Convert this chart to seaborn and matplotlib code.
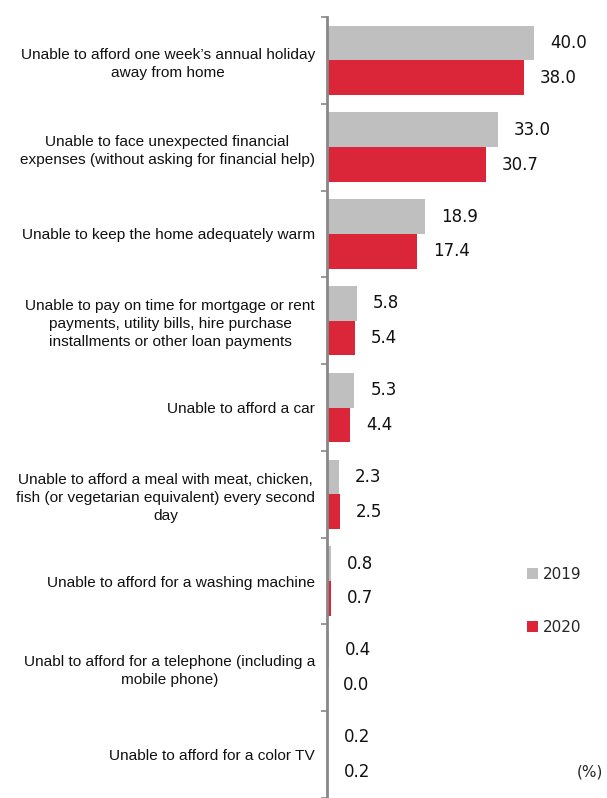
import numpy as np
import pandas as pd
import matplotlib
matplotlib.use("Agg")
import matplotlib.pyplot as plt
import seaborn as sns

# data
categories = [
    "Unable to afford one week\u2019s annual holiday\naway from home",
    "Unable to face unexpected financial\nexpenses (without asking for financial help)",
    "Unable to keep the home adequately warm",
    "Unable to pay on time for mortgage or rent\npayments, utility bills, hire purchase\ninstallments or other loan payments",
    "Unable to afford a car",
    "Unable to afford a meal with meat, chicken,\nfish (or vegetarian equivalent) every second\nday",
    "Unable to afford for a washing machine",
    "Unabl to afford for a telephone (including a\nmobile phone)",
    "Unable to afford for a color TV",
]
vals_2019 = [40.0, 33.0, 18.9, 5.8, 5.3, 2.3, 0.8, 0.4, 0.2]
vals_2020 = [38.0, 30.7, 17.4, 5.4, 4.4, 2.5, 0.7, 0.0, 0.2]
years = ["2019", "2020"]
colors = ["#BFBFBF", "#DA2638"]

df = pd.DataFrame({
    "cat": categories * 2,
    "val": vals_2019 + vals_2020,
    "year": [years[0]] * len(categories) + [years[1]] * len(categories),
})

sns.set_style("white")
plt.rcParams["font.family"] = ["DejaVu Sans"]

fig = plt.figure(figsize=(6.07, 7.98), dpi=100)
ax = fig.add_axes([327 / 607, 0.0, 273 / 607, 1 - 17 / 798])

sns.barplot(data=df, y="cat", x="val", hue="year", orient="h",
            palette=colors, width=0.8, ax=ax, saturation=1, linewidth=0)

# value labels
for cont in ax.containers:
    ax.bar_label(cont, fmt="%.1f", padding=11.5, fontsize=12, color="#111111")

ax.set_xlim(0, 273 / 5.18)
ax.set_ylim(len(categories) - 0.5, -0.5)
ax.set_xlabel("")
ax.set_ylabel("")
ax.set_xticks([])

# category labels: block right aligned, lines centred
ax.set_yticks(range(len(categories)))
ax.set_yticklabels(categories, fontsize=11.1, color="#111111",
                   family=["Liberation Sans", "DejaVu Sans"])
for lab in ax.get_yticklabels():
    lab.set_multialignment("center")
    lab.set_linespacing(1.36)
ax.tick_params(axis="y", which="major", length=0, pad=8.6)

# boundary ticks
ax.set_yticks(np.arange(-0.5, len(categories), 1.0), minor=True)
ax.tick_params(axis="y", which="minor", length=4, width=1.2, color="#888888", left=True)

for s in ["top", "right", "bottom"]:
    ax.spines[s].set_visible(False)
ax.spines["left"].set_color("#888888")
ax.spines["left"].set_linewidth(2)

leg = ax.legend(loc="center left", bbox_to_anchor=(527 / 607, 1 - 601 / 798),
                bbox_transform=fig.transFigure, frameon=False, fontsize=11,
                handlelength=0.75, handleheight=0.75, handletextpad=0.3,
                labelspacing=2.5, borderpad=0, borderaxespad=0)
for h in leg.legend_handles:
    h.set_edgecolor("none")

fig.text(603 / 607, 1 - 772 / 798, "(%)", ha="right", va="center", fontsize=11)

fig.savefig("out.png", dpi=100)
